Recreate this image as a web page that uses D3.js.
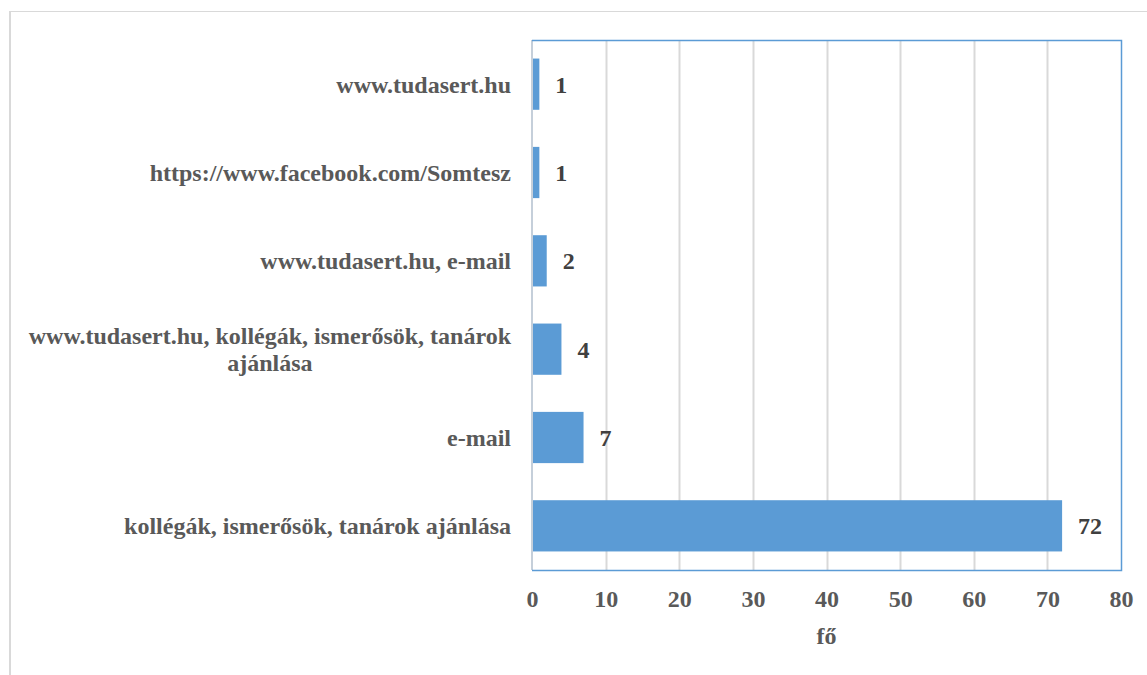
<!DOCTYPE html>
<html>
<head>
<meta charset="utf-8">
<script src="https://cdn.jsdelivr.net/npm/d3@7/dist/d3.min.js"></script>
<style>
  html, body { margin: 0; padding: 0; background: #fff; }
  svg { display: block; }
  text { font-family: "Liberation Serif", "Times New Roman", serif; font-weight: bold; }
</style>
</head>
<body>
<svg id="chart" width="1147" height="675"></svg>
<script>
const categories = [
  ["www.tudasert.hu"],
  ["https://www.facebook.com/Somtesz"],
  ["www.tudasert.hu, e-mail"],
  ["www.tudasert.hu, kollégák, ismerősök, tanárok", "ajánlása"],
  ["e-mail"],
  ["kollégák, ismerősök, tanárok ajánlása"]
];
const values = [1, 1, 2, 4, 7, 72];
const xTicks = [0, 10, 20, 30, 40, 50, 60, 70, 80];
const axisTitle = "fő";

(function () {
const svg = d3.select("#chart");
const pL = 532, pR = 1121, pT = 40, pB = 570;

// outer frame
svg.append("line").attr("x1", 10).attr("x2", 10).attr("y1", 11).attr("y2", 675)
  .attr("stroke", "#D9D9D9").attr("stroke-width", 2);
svg.append("line").attr("x1", 9).attr("x2", 1147).attr("y1", 11.5).attr("y2", 11.5)
  .attr("stroke", "#D9D9D9").attr("stroke-width", 1);

const x = d3.scaleLinear().domain([0, 80]).range([pL, pR]);
const y = d3.scaleBand().domain(d3.range(categories.length)).range([pT, pB]).paddingInner(0.42).paddingOuter(0.21);

// gridlines
svg.append("g").selectAll("line").data(xTicks.slice(1, -1)).join("line")
  .attr("x1", d => Math.round(x(d)) + 0.5).attr("x2", d => Math.round(x(d)) + 0.5)
  .attr("y1", pT).attr("y2", pB)
  .attr("stroke", "#D9D9D9").attr("stroke-width", 2);

// bars
svg.append("g").selectAll("rect").data(values).join("rect")
  .attr("x", x(0)).attr("y", (d, i) => y(i))
  .attr("width", d => x(d) - x(0)).attr("height", y.bandwidth())
  .attr("fill", "#5B9BD5");

// left axis line
svg.append("line").attr("x1", pL).attr("x2", pL).attr("y1", pT).attr("y2", pB)
  .attr("stroke", "#C5CFDA").attr("stroke-width", 2);

// plot border (top, right, bottom)
svg.append("path")
  .attr("d", `M${pL},${pT + 0.5}H${pR + 0.5}V${pB + 0.5}H${pL}`)
  .attr("fill", "none").attr("stroke", "#5B9BD5").attr("stroke-width", 1.5);

// x axis tick labels
const xAxis = d3.axisBottom(x).tickValues(xTicks).tickSize(0).tickPadding(0).tickFormat(d3.format("d"));
const gx = svg.append("g").attr("transform", `translate(0,${pB})`).call(xAxis);
gx.select(".domain").remove();
gx.selectAll("text").attr("y", 37).attr("dy", 0)
  .attr("font-size", 24).attr("font-family", "Liberation Serif").attr("font-weight", "bold")
  .attr("fill", "#595959");

// axis title
svg.append("text").attr("x", (pL + pR) / 2).attr("y", 644)
  .attr("text-anchor", "middle").attr("font-size", 24).attr("fill", "#595959").text(axisTitle);

// category labels
const labelX = 511;
const cat = svg.append("g").selectAll("text").data(categories).join("text")
  .attr("text-anchor", "end").attr("font-size", 24).attr("fill", "#595959")
  .attr("y", (d, i) => y(i) + y.bandwidth() / 2);
cat.each(function (lines) {
  const t = d3.select(this);
  const n = lines.length;
  lines.forEach((ln, k) => {
    t.append("tspan")
      .attr("x", labelX)
      .attr("dy", k === 0 ? `${0.35 - (n - 1) * 0.58}em` : "1.16em")
      .text(ln);
  });
  if (n > 1) {
    const spans = t.selectAll("tspan").nodes();
    const w0 = spans[0].getComputedTextLength();
    const cx = labelX - w0 / 2;
    spans.slice(1).forEach(s => d3.select(s).attr("text-anchor", "middle").attr("x", cx));
  }
});

// value labels
svg.append("g").selectAll("text").data(values).join("text")
  .attr("x", d => x(d) + 16).attr("y", (d, i) => y(i) + y.bandwidth() / 2)
  .attr("dy", "0.35em").attr("font-size", 24).attr("fill", "#404040")
  .text(d => d);
})();
</script>
</body>
</html>
